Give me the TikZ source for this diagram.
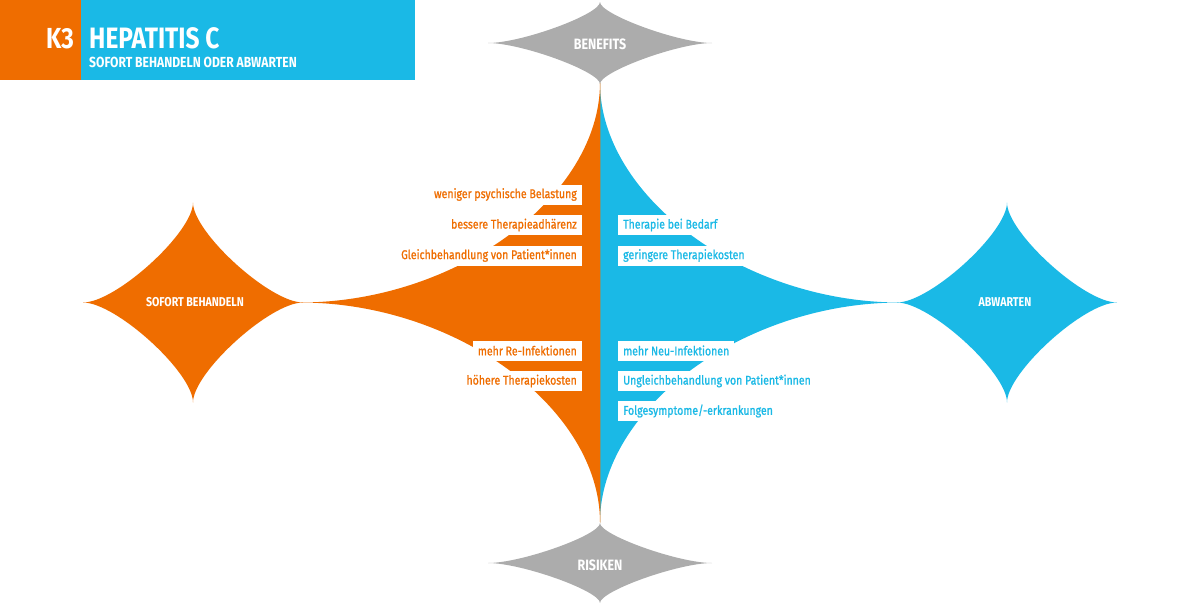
\documentclass[tikz,border=0pt]{standalone}
\usepackage{fontspec}
\setmainfont{Fira Sans}[FakeStretch=0.83]
\newfontfamily\lblfont{Fira Sans}[FakeStretch=0.83, FakeBold=1.0]
\definecolor{hcorange}{RGB}{239,109,0}
\definecolor{hcblue}{RGB}{26,185,230}
\definecolor{hcgray}{RGB}{172,172,172}
\newcommand\hcstar[6]{%
  \begin{scope}[shift={(#1,#2)}, x=#3pt, y=#4pt]
    \fill[#6] (-1,0) .. controls (-#5,0) and (0,#5) .. (0,1)
      .. controls (0,#5) and (#5,0) .. (1,0)
      .. controls (#5,0) and (0,-#5) .. (0,-1)
      .. controls (0,-#5) and (-#5,0) .. (-1,0) -- cycle;
  \end{scope}}
\begin{document}
\begin{tikzpicture}[x=1pt,y=-1pt,
  lbl/.style={fill=white, inner xsep=5pt, inner ysep=0pt, minimum height=20pt,
    font=\lblfont\fontsize{12.7}{14}\selectfont},
  lblL/.style={lbl, text=hcorange, anchor=east},
  lblR/.style={lbl, text=hcblue, anchor=west},
  starlbl/.style={text=white, inner sep=0pt, font=\bfseries\fontsize{12.8}{14}\selectfont},
  graylbl/.style={text=white, inner sep=0pt, font=\bfseries\fontsize{15}{16}\selectfont},
]
\useasboundingbox (0,0) rectangle (1200,606);
% central shape
\begin{scope}[shift={(600,302.5)}, x=300pt, y=220pt]
  \fill[hcblue] (0,1) .. controls (0,0.48) and (0.48,0) .. (1,0)
     .. controls (0.48,0) and (0,-0.48) .. (0,-1) -- cycle;
  \fill[hcorange] (0.001,1) -- (0,1) .. controls (0,0.48) and (-0.48,0) .. (-1,0)
     .. controls (-0.48,0) and (0,-0.48) .. (0,-1) -- (0.001,-1) -- cycle;
\end{scope}
% stars
\hcstar{193}{302.5}{110}{100}{0.7}{hcorange}
\hcstar{1007}{302.5}{110}{100}{0.7}{hcblue}
\hcstar{600}{43}{112}{41}{0.7}{hcgray}
\hcstar{600}{563}{112}{40}{0.7}{hcgray}
% star labels
\node[starlbl] (sofort) at (195,302.5) {SOFORT BEHANDELN};
\node[starlbl] (abwarten) at (1005,302.5) {ABWARTEN};
\node[graylbl] (benefits) at (600,44) {BENEFITS};
\node[graylbl] (risiken) at (600,565) {RISIKEN};
% labels left
\node[lblL] (l1) at (582,194.5) {weniger psychische Belastung};
\node[lblL] (l2) at (582,225) {bessere Therapieadhärenz};
\node[lblL] (l3) at (582,255.5) {Gleichbehandlung von Patient*innen};
\node[lblL] (l4) at (582,350.5) {mehr Re-Infektionen};
\node[lblL] (l5) at (582,381) {höhere Therapiekosten};
% labels right
\node[lblR] (r1) at (618,225) {Therapie bei Bedarf};
\node[lblR] (r2) at (618,255.5) {geringere Therapiekosten};
\node[lblR] (r3) at (618,350.5) {mehr Neu-Infektionen};
\node[lblR] (r4) at (618,381) {Ungleichbehandlung von Patient*innen};
\node[lblR] (r5) at (618,411) {Folgesymptome/-erkrankungen};
% header
\fill[hcorange] (0,0) rectangle (81,80);
\fill[hcblue] (81,0) rectangle (415,80);
\node[anchor=base west, inner sep=0pt, text=white, font=\bfseries\fontsize{29}{32}\selectfont] (k3) at (46,48) {K3};
\node[anchor=base west, inner sep=0pt, text=white, font=\bfseries\fontsize{29.5}{32}\selectfont] (title) at (89,48) {HEPATITIS C};
\node[anchor=base west, inner sep=0pt, text=white, font=\bfseries\fontsize{14.6}{16}\selectfont] (subtitle) at (89,67.5) {SOFORT BEHANDELN ODER ABWARTEN};
\end{tikzpicture}
\end{document}
